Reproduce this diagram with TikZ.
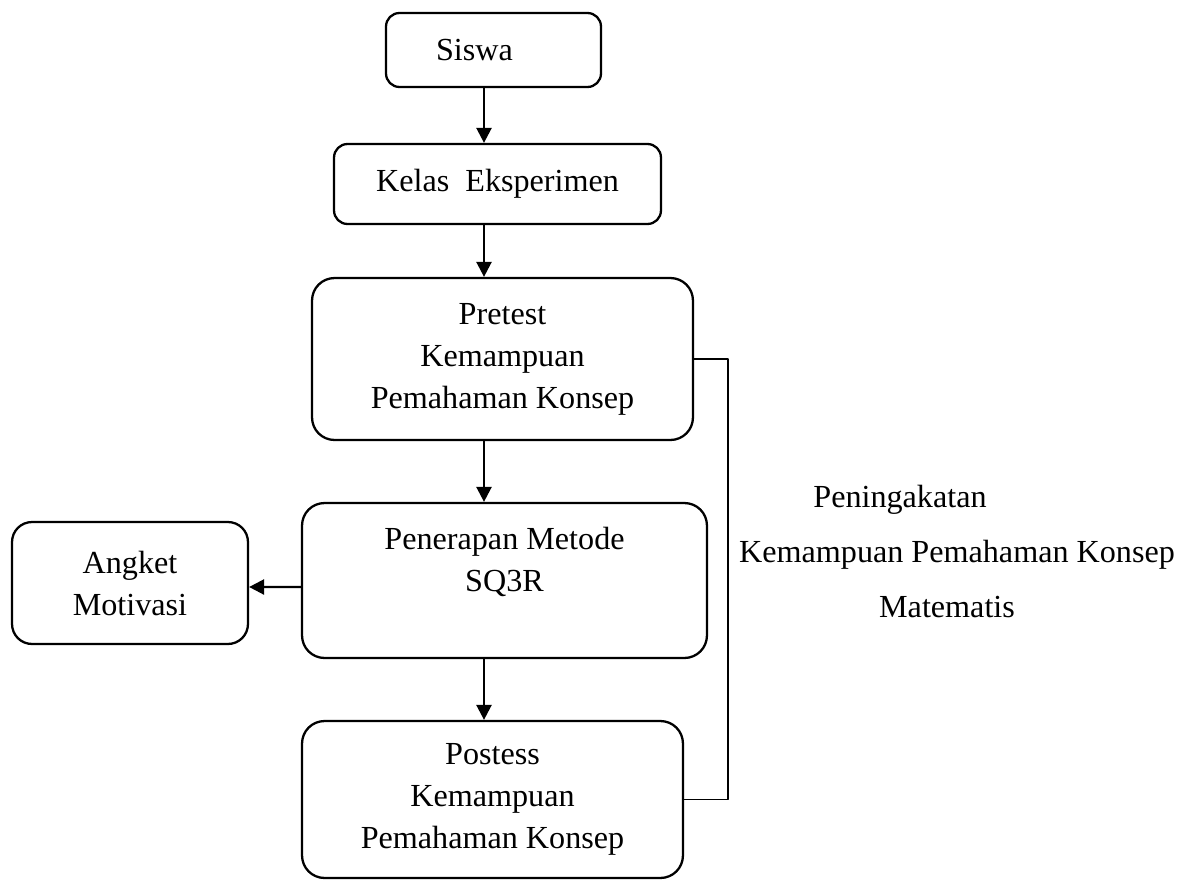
\documentclass[tikz,border=0pt]{standalone}
\usepackage{fontspec}
\setmainfont{Liberation Serif}
\usetikzlibrary{arrows.meta}
\begin{document}
\begin{tikzpicture}[x=0.02cm, y=-0.02cm, line join=round, >={Triangle[length=0.3cm,width=0.3cm]},
  font=\fontsize{18.3}{23.9}\selectfont,
  box/.style={draw, line width=1.3pt, align=center, inner sep=0pt, rounded corners=0.45cm},
  smallbox/.style={box, rounded corners=0.27cm},
  link/.style={->, line width=1.4pt}]
\useasboundingbox (0,0) rectangle (1181,880);
\node[smallbox, minimum width=4.30cm, minimum height=1.48cm] (siswa) at (493.5,50) {Siswa\hspace*{0.76cm}};
\node[smallbox, minimum width=6.54cm, minimum height=1.60cm] (kelas) at (497.5,184) {Kelas\ \ Eksperimen};
\node[box, minimum width=7.62cm, minimum height=3.24cm] (pretest) at (502.5,359)
  {Pretest\\Kemampuan\\Pemahaman Konsep};
\node[box, minimum width=8.10cm, minimum height=3.10cm] (penerapan) at (504.5,580.5)
  {Penerapan Metode\\SQ3R\\~};
\node[box, rounded corners=0.4cm, minimum width=4.72cm, minimum height=2.44cm] (angket) at (130,583)
  {Angket\\Motivasi};
\node[box, minimum width=7.62cm, minimum height=3.14cm] (postess) at (492.5,799.5)
  {Postess\\Kemampuan\\Pemahaman Konsep};
% label beside the bracket
\node[anchor=base] (lbl1) at (900,507) {Peningakatan};
\node[anchor=base] (lbl2) at (957,562) {Kemampuan Pemahaman Konsep};
\node[anchor=base] (lbl3) at (947,617) {Matematis};
% connectors
\coordinate (spine) at (484,0);
\coordinate (brk) at (728,580);
\draw[link] (siswa.south -| spine) -- (kelas.north -| spine);
\draw[link] (kelas.south -| spine) -- (pretest.north -| spine);
\draw[link] (pretest.south -| spine) -- (penerapan.north -| spine);
\draw[link] (penerapan.south -| spine) -- (postess.north -| spine);
\draw[link] ([yshift=-0.13cm]penerapan.west) -- ([yshift=-0.08cm]angket.east);
\draw[line width=1pt] (pretest.east) -| (brk) |- (postess.east);
\end{tikzpicture}
\end{document}
